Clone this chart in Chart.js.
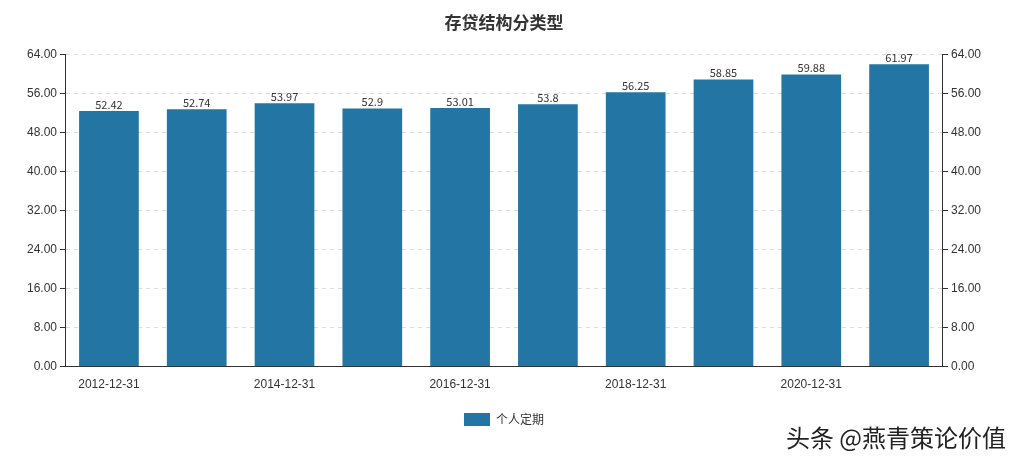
<!DOCTYPE html>
<html><head><meta charset="utf-8">
<script src="https://cdn.jsdelivr.net/npm/chart.js@4"></script>
<style>
body{margin:0;background:#fff;font-family:"Noto Sans CJK SC","Noto Sans",sans-serif}
#wrap{position:relative;width:1020px;height:464px}
#wm{position:absolute;right:14px;bottom:10px;font-size:24px;color:#222;font-family:"Noto Sans CJK SC"}
</style></head><body>
<div id="wrap"><canvas id="c" width="1020" height="464"></canvas><div id="wm">头条 @燕青策论价值</div></div>
<script>
const categories = ['2012-12-31','2013-12-31','2014-12-31','2015-12-31','2016-12-31','2017-12-31','2018-12-31','2019-12-31','2020-12-31','2021-12-31'];
const values = [52.42,52.74,53.97,52.9,53.01,53.8,56.25,58.85,59.88,61.97];
const valueLabels = ['52.42','52.74','53.97','52.9','53.01','53.8','56.25','58.85','59.88','61.97'];

const barLabels = {
  id:'barLabels',
  afterDatasetsDraw(chart){
    const ctx = chart.ctx;
    ctx.save();
    ctx.font = '11px "Noto Sans CJK SC", sans-serif';
    ctx.fillStyle = '#333';
    ctx.textAlign = 'center';
    ctx.textBaseline = 'bottom';
    chart.getDatasetMeta(0).data.forEach((b,i)=>ctx.fillText(valueLabels[i], b.x, b.y-1));
    ctx.restore();
  }
};

const tickFmt = v => v.toFixed(2);
new Chart(document.getElementById('c'), {
  type:'bar',
  data:{labels:categories, datasets:[{label:'个人定期', data:values, backgroundColor:'#2376a3', categoryPercentage:0.68, barPercentage:1}]},
  options:{
    responsive:false, animation:false,
    layout:{padding:{left:24,right:36,top:2,bottom:28}},
    plugins:{
      title:{display:true, text:'存贷结构分类型', color:'#333', font:{size:17, weight:'bold', family:'"Noto Sans CJK SC"'}, padding:{top:10,bottom:22}},
      legend:{position:'bottom', labels:{boxWidth:26, boxHeight:13, color:'#333', font:{size:12, family:'"Noto Sans CJK SC"'}, padding:18}},
      tooltip:{enabled:false}
    },
    scales:{
      x:{grid:{display:false}, border:{color:'#333'},
        ticks:{autoSkip:false, maxRotation:0, color:'#333', font:{size:12}, callback:(v,i)=> i%2===0 ? categories[i] : ''}},
      y:{min:0, max:64, position:'left', border:{color:'#333', dash:[4,4]},
        grid:{color:'#dddddd', tickColor:'#333', tickLength:5},
        ticks:{stepSize:8, color:'#333', font:{size:12}, callback:tickFmt}},
      y2:{min:0, max:64, position:'right', border:{color:'#333'},
        grid:{drawOnChartArea:false, tickColor:'#333', tickLength:5},
        ticks:{stepSize:8, color:'#333', font:{size:12}, callback:tickFmt}}
    }
  },
  plugins:[barLabels]
});
</script>
</body></html>
